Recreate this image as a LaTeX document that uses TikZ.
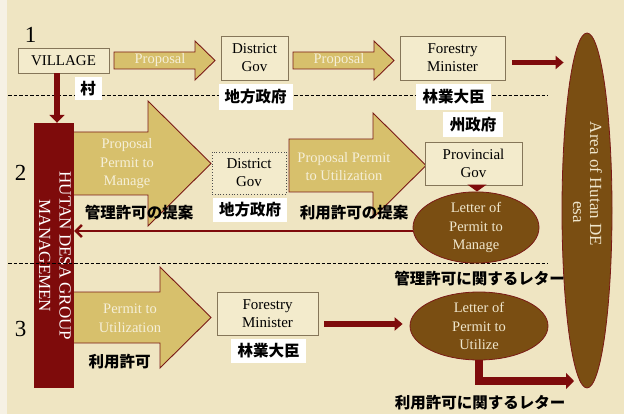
\documentclass[tikz,border=0pt]{standalone}
\usepackage{fontspec}
\setmainfont{Liberation Serif}
\newfontfamily\jpfont{Noto Sans CJK JP}
\usetikzlibrary{arrows.meta,shapes.geometric}
\definecolor{bgc}{HTML}{EFE5C2}
\definecolor{stripc}{HTML}{F6F1E4}
\definecolor{boxfill}{HTML}{F3EBCC}
\definecolor{boxline}{HTML}{857659}
\definecolor{ayellow}{HTML}{D7C06C}
\definecolor{adark}{HTML}{7A1A16}
\definecolor{ared}{HTML}{7E0B0B}
\definecolor{ebrown}{HTML}{7A4E12}
\definecolor{ellline}{HTML}{7A1A16}
\definecolor{wtextc}{HTML}{F5EFD8}
\definecolor{etextc}{HTML}{EFE6CC}
\tikzset{
  box/.style={draw=boxline, fill=boxfill, line width=0.8pt, align=center, inner sep=0pt, font=\fontsize{15}{18}\selectfont, text=black},
  yarrow/.style={fill=ayellow, draw=adark, line width=0.9pt},
  wtext/.style={text=wtextc, align=center, font=\fontsize{14.5}{18.5}\selectfont},
  jlab/.style={font=\jpfont\bfseries\fontsize{15.5}{17}\selectfont, text=black, inner sep=0pt},
  jbox/.style={jlab, fill=white, inner xsep=5pt, inner ysep=4.5pt},
  oval/.style={ellipse, draw=ellline, fill=ebrown, line width=0.8pt, inner sep=0pt, text=etextc, align=center, font=\fontsize{14.5}{18.5}\selectfont},
  rarrow/.style={draw=ared, line width=5pt, -{Triangle[width=13pt,length=8pt]}},
  dline/.style={dash pattern=on 3.5pt off 2pt, line width=0.9pt},
  num/.style={font=\fontsize{23}{23}\selectfont, inner sep=0pt}
}
\begin{document}
\begin{tikzpicture}[x=1pt,y=-1pt]
\useasboundingbox (0,0) rectangle (624,414);
\fill[bgc] (0,0) rectangle (624,414);
\fill[stripc] (0,0) rectangle (7,414);

% numbers
\node[num] (n1) at (30.5,35) {1};
\node[num] (n2) at (20.5,172.5) {2};
\node[num] (n3) at (20.5,329) {3};

% block arrows row 1
\draw[yarrow] (114,52) -- (195,52) -- (195,41) -- (215,60.5) -- (195,80) -- (195,69) -- (114,69) -- cycle;
\node[wtext] (p1) at (160,60.5) {Proposal};
\draw[yarrow] (293,52) -- (374,52) -- (374,41) -- (394,60.5) -- (374,80) -- (374,69) -- (293,69) -- cycle;
\node[wtext] (p2) at (339,60.5) {Proposal};

% block arrows row 2
\draw[yarrow] (70,132) -- (148,132) -- (148,101) -- (211,163.5) -- (148,226) -- (148,195) -- (70,195) -- cycle;
\node[wtext] (pa) at (127,164) {Proposal\\Permit to\\Manage};
\draw[yarrow] (289,139) -- (373,139) -- (373,113) -- (426,165.5) -- (373,218) -- (373,192) -- (289,192) -- cycle;
\node[wtext] (pb) at (344,166.5) {Proposal Permit\\to Utilization};

% block arrow row 3
\draw[yarrow] (70,292) -- (160,292) -- (160,267) -- (211,317.5) -- (160,368) -- (160,343) -- (70,343) -- cycle;
\node[wtext] (pc) at (130,318.5) {Permit to\\Utilization};

% group bar
\node[draw=none, fill=ared, minimum width=40pt, minimum height=265pt, inner sep=0pt] (bar) at (54,255.5) {};
\node[rotate=-90, text=white, align=center, font=\fontsize{17}{20.5}\selectfont] (bartext) at (55,256) {HUTAN DESA GROUP\\MANAGEMEN};

% dashed lines
\draw[dline] (8,95) -- (548,95);
\draw[dline] (8,263) -- (548,263);

% boxes
\node[box, minimum width=91pt, minimum height=25pt] (village) at (63.5,60.5) {VILLAGE};
\node[box, minimum width=67pt, minimum height=44pt] (dg1) at (254.5,58) {District\\Gov};
\node[box, minimum width=105pt, minimum height=44pt] (fm1) at (452.5,58) {Forestry\\Minister};
\node[box, dotted, draw=black!70, minimum width=74pt, minimum height=42pt] (dg2) at (249,173) {District\\Gov};
\node[box, minimum width=97pt, minimum height=43pt] (prov) at (473.5,163.5) {Provincial\\Gov};
\node[box, minimum width=101pt, minimum height=43pt] (fm3) at (267.5,313.5) {Forestry\\Minister};

% ellipses
\node[oval, minimum width=50pt, minimum height=355pt] (area) at (587,210.5) {};
\node[rotate=-90, text=etextc, font=\fontsize{17}{19}\selectfont, inner sep=0pt] (areat1) at (596,184) {Area of Hutan DE};
\node[rotate=-90, text=etextc, font=\fontsize{17}{19}\selectfont, inner sep=0pt] (areat2) at (577,212) {esa};
\node[oval, minimum width=126pt, minimum height=59pt] (lpm) at (476,227.5) {Letter of\\Permit to\\Manage};
\node[oval, minimum width=138pt, minimum height=68pt] (lpu) at (479,326) {Letter of\\Permit to\\Utilize};

% connectors
\draw[rarrow, line width=6pt, -{Triangle[width=15pt,length=8pt]}] ([xshift=-6.5pt]village.south) -- ([xshift=-6.5pt]village.south |- bar.north);
\draw[rarrow] ([xshift=7pt,yshift=-4.5pt]fm1.east) -- ([xshift=2pt,yshift=-4.5pt]fm1.east -| area.west);
\draw[draw=ared, line width=10pt, -{Triangle[width=19pt,length=7pt]}] ([xshift=3.5pt]prov.south) -- ([xshift=3.5pt]prov.south |- lpm.north);
\draw[draw=ared, line width=2.5pt, -{Straight Barb[width=12pt,length=6pt]}] ([yshift=-3.5pt]lpm.west) -- ([yshift=-3.5pt]lpm.west -| bar.east);
\draw[rarrow, line width=6pt, -{Triangle[width=13pt,length=8pt]}] ([xshift=6pt,yshift=2pt]fm3.east |- lpu.west) -- ([xshift=-7pt,yshift=2pt]lpu.west);
\coordinate (e3) at (574,381);
\draw[rarrow, line width=8pt, -{Triangle[width=16pt,length=8pt]}] (lpu.south) |- (e3);

% japanese labels
\node[jbox, minimum width=27pt, minimum height=23pt] (l1) at (88,88.5) {村};
\node[jbox, minimum width=74pt, minimum height=26pt] (l2) at (255.5,97) {地方政府};
\node[jbox, minimum width=75pt, minimum height=26pt] (l3) at (453.5,97) {林業大臣};
\node[jbox, minimum width=60pt, minimum height=25pt] (l4) at (473,124.5) {州政府};
\node[jlab] (l5) at (139,212.5) {管理許可の提案};
\node[jbox, minimum width=74pt, minimum height=24pt] (l6) at (250,210) {地方政府};
\node[jlab] (l7) at (354,212.5) {利用許可の提案};
\node[jlab] (l8) at (479.5,278.5) {管理許可に関するレター};
\node[jlab] (l9) at (119.5,362) {利用許可};
\node[jbox, minimum width=75pt, minimum height=24pt] (l10) at (268.5,351) {林業大臣};
\node[jlab] (l11) at (480,403) {利用許可に関するレター};
\end{tikzpicture}
\end{document}
